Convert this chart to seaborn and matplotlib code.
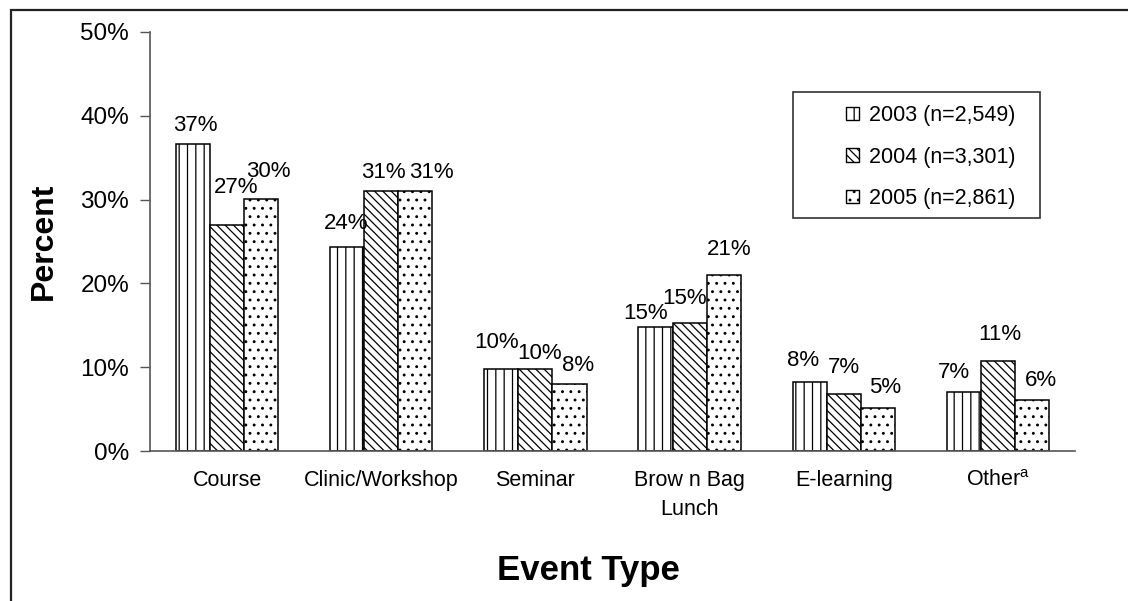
import numpy as np
import pandas as pd
import matplotlib
matplotlib.use("Agg")
import matplotlib.pyplot as plt
from matplotlib.patches import Patch, Rectangle
import seaborn as sns

# values (percent of events)
event_types = ["Course", "Clinic/Workshop", "Seminar", "Brow n Bag\nLunch", "E-learning", r"Other$^{\mathrm{a}}$"]
years = ["2003 (n=2,549)", "2004 (n=3,301)", "2005 (n=2,861)"]
pct_2003 = [36.6, 24.3, 9.8, 14.8, 8.2, 7.0]
pct_2004 = [27.0, 31.0, 9.8, 15.3, 6.8, 10.7]
pct_2005 = [30.1, 31.0, 8.0, 21.0, 5.1, 6.1]
y_ticks = [0, 10, 20, 30, 40, 50]
hatches = ["||", "\\\\\\\\", ".."]

# label nudges in pixels (x from bar centre, gap above bar top to baseline), per year then per category
label_dx = [[2, -1, -5, -10, -7, -10],
            [9, 2, 4, -5, 0, 2],
            [7, 16, 9, 6, 7, 9]]
label_dy = [[13, 18, 21, 8, 16, 14],
            [32, 13, 10, 19, 21, 21],
            [22, 13, 13, 20, 15, 14]]

df = pd.DataFrame({
    "event": event_types * 3,
    "year": [years[0]] * 6 + [years[1]] * 6 + [years[2]] * 6,
    "pct": pct_2003 + pct_2004 + pct_2005,
})

sns.set_style("white")
plt.rcParams["font.family"] = ["Liberation Sans", "DejaVu Sans"]
plt.rcParams["mathtext.fontset"] = "custom"
plt.rcParams["mathtext.rm"] = "Liberation Sans"
plt.rcParams["hatch.linewidth"] = 0.9
plt.rcParams["text.color"] = "black"
plt.rcParams["axes.labelcolor"] = "black"
plt.rcParams["xtick.color"] = "black"
plt.rcParams["ytick.color"] = "black"

fig = plt.figure(figsize=(11.28, 6.01), dpi=100)
ax = fig.add_axes([150 / 1128, 1 - 451 / 601, 925 / 1128, 419 / 601])

sns.barplot(data=df, x="event", y="pct", hue="year", order=event_types, hue_order=years,
            palette=["white"] * 3, edgecolor="black", linewidth=1.1, width=0.663,
            legend=False, ax=ax)

px = 72 / fig.dpi
for k, (cont, h) in enumerate(zip(ax.containers, hatches)):
    for j, bar in enumerate(cont):
        bar.set_hatch(h)
        bar.set_edgecolor("black")
        v = cont.datavalues[j]
        ax.annotate(f"{v:.0f}%", (bar.get_x() + bar.get_width() / 2, v),
                    xytext=(label_dx[k][j] * px, label_dy[k][j] * px), textcoords="offset points",
                    ha="center", va="baseline", fontsize=16)

ax.set_ylim(0, 50)
ax.set_yticks(y_ticks)
ax.set_yticklabels([f"{t}%" for t in y_ticks], fontsize=17.5)
ax.set_xlim(-0.5, len(event_types) - 0.5)
ax.set_xticks(range(len(event_types)))
ax.set_xticklabels(event_types, fontsize=15.5, linespacing=1.45)
ax.set_xticks(np.arange(-0.5, len(event_types)), minor=True)
ax.tick_params(axis="x", which="major", length=0, pad=14)
ax.tick_params(axis="x", which="minor", length=7, width=1, color="#555555", direction="out")
ax.tick_params(axis="y", length=7, width=1, color="#555555", direction="out", pad=8, left=True)

sns.despine(ax=ax)
for s in ["left", "bottom"]:
    ax.spines[s].set_color("#555555")
    ax.spines[s].set_linewidth(1.2)

ax.set_ylabel("Percent", fontsize=23, fontweight="bold")
ax.set_xlabel("Event Type", fontsize=25, fontweight="bold")
ax.yaxis.set_label_coords(-0.099, 0.5)
ax.xaxis.set_label_coords(0.474, -0.246)

# legend: frame drawn separately so the entries sit centred in the box
handles = [Patch(facecolor="white", edgecolor="black", hatch=h, linewidth=1) for h in ["||", "\\\\\\\\", ".."]]
ax.legend(handles, years, loc="center", bbox_to_anchor=((931 - 150) / 925, (451 - 157) / 419),
          frameon=False, fontsize=15.5, handlelength=0.6, handleheight=0.6,
          handletextpad=0.45, labelspacing=0.95)
ax.add_patch(Rectangle(((793 - 150) / 925, (451 - 218) / 419), 247 / 925, 126 / 419,
                       transform=ax.transAxes, fill=False, edgecolor="#333333", linewidth=1.2,
                       clip_on=False))

# outer chart border
fig.patches.append(Rectangle((11 / 1128, -0.05), 1.2, 1 - 10 / 601 + 0.05, transform=fig.transFigure,
                             fill=False, edgecolor="#222222", linewidth=1.6))

fig.savefig("out.png", dpi=100)
